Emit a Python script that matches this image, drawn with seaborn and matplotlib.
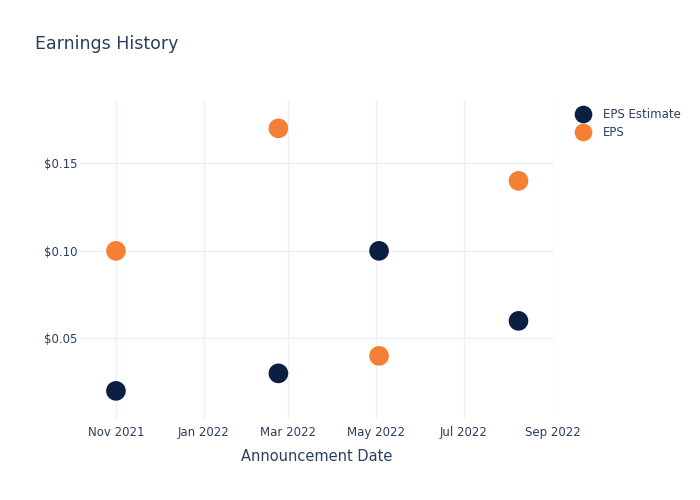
import matplotlib
matplotlib.use("Agg")
import matplotlib.pyplot as plt
import matplotlib.dates as mdates
from matplotlib.ticker import FuncFormatter
import seaborn as sns
import pandas as pd

dates = ["2021-11-01", "2022-02-22", "2022-05-03", "2022-08-08"]
eps_estimate = [0.02, 0.03, 0.10, 0.06]
eps_actual = [0.10, 0.17, 0.04, 0.14]
series_names = ["EPS Estimate", "EPS"]
colors = ["#0b1f42", "#f58035"]

df = pd.concat([
    pd.DataFrame({"date": pd.to_datetime(dates), "value": eps_estimate, "series": series_names[0]}),
    pd.DataFrame({"date": pd.to_datetime(dates), "value": eps_actual, "series": series_names[1]}),
])

sns.set_theme(style="white")
plt.rcParams['font.family'] = ['DejaVu Sans']
text_color = "#2a3f5f"
grid_color = "#ebf0f8"

fig = plt.figure(figsize=(7, 5), dpi=100)
ax = fig.add_axes([80/700, 82/500, (553-80)/700, (418-100)/500])

sns.scatterplot(data=df, x="date", y="value", hue="series", palette=colors,
                hue_order=series_names, s=200, edgecolor="none", ax=ax, zorder=3)

ax.set_xlim(pd.Timestamp("2021-10-07"), pd.Timestamp("2022-09-01"))
ax.set_ylim(0.0045, 0.1862)
ax.set_yticks([0.05, 0.10, 0.15])
ax.yaxis.set_major_formatter(FuncFormatter(lambda v, p: f"${v:.2f}"))
ax.xaxis.set_major_locator(mdates.MonthLocator(bymonth=[1, 3, 5, 7, 9, 11]))
ax.xaxis.set_major_formatter(mdates.DateFormatter("%b %Y"))

ax.grid(True, color=grid_color, linewidth=1)
ax.set_axisbelow(True)
for sp in ax.spines.values():
    sp.set_visible(False)
ax.tick_params(axis="x", length=0, labelsize=8.5, colors=text_color, pad=6)
ax.tick_params(axis="y", length=0, labelsize=8.5, colors=text_color, pad=2)

ax.set_xlabel("Announcement Date", fontsize=10.5, color=text_color, labelpad=7)
ax.set_ylabel("")

fig.text(35/700, 1 - 44/500, "Earnings History", fontsize=12.5, color=text_color,
         ha="left", va="center")

leg = ax.legend(loc="upper left", bbox_to_anchor=(1.028, 0.99), frameon=False,
                fontsize=8.5, handletextpad=0.7, labelspacing=0.45, borderaxespad=0,
                markerscale=0.9)
for t in leg.get_texts():
    t.set_color(text_color)

fig.savefig("out.png", dpi=100)
